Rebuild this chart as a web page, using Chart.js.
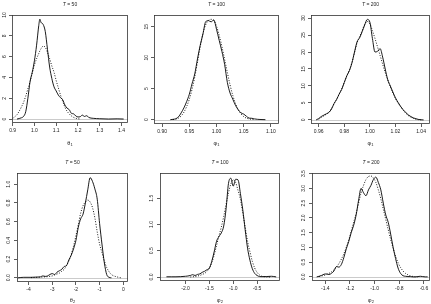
<!DOCTYPE html>
<html>
<head>
<meta charset="utf-8">
<script src="https://cdn.jsdelivr.net/npm/chart.js@4.4.0/dist/chart.umd.min.js"></script>
<style>
  html, body { margin: 0; padding: 0; background: #fff; }
  #wrap { position: relative; width: 431px; height: 304px; overflow: hidden; }
  #wrap canvas { position: absolute; left: 0; top: 0; }
</style>
</head>
<body>
<div id="wrap"></div>
<script>
// ---- data: density estimates ----
// row 1, T = 50
const r1T50X = [0.90,0.91,0.92,0.93,0.94,0.95,0.96,0.97,0.98,0.99,1.00,1.01,1.02,1.025,1.03,1.04,1.05,1.06,1.07,1.08,1.09,1.10,1.11,1.12,1.13,1.14,1.15,1.16,1.17,1.18,1.19,1.20,1.21,1.22,1.23,1.24,1.25,1.27,1.30,1.34,1.38,1.41];
const r1T50Solid = [null,null,0.0,0.05,0.12,0.25,0.7,2.0,3.6,4.5,5.6,7.1,9.0,9.6,9.3,9.1,8.4,6.7,5.0,3.9,3.1,2.7,2.3,2.05,1.85,1.35,1.05,0.9,0.55,0.5,0.3,0.2,0.22,0.38,0.25,0.32,0.15,0.07,0.03,0.0,0.02,0.0];
const r1T50Dotted = [0.06,0.22,0.42,0.75,1.15,1.6,2.2,2.9,3.6,4.4,5.2,5.8,6.3,6.55,6.75,7.0,6.9,6.4,5.8,5.1,4.5,3.7,3.0,2.3,1.7,1.15,0.75,0.5,0.3,0.16,0.08,0.03,0.0,null,null,null,null,null,null,null,null,null];
const r1T50XTicks = [0.9,1.0,1.1,1.2,1.3,1.4];
const r1T50YTicks = [0,2,4,6,8,10];

// row 1, T = 100
const r1T100X = [0.915,0.92,0.925,0.93,0.935,0.94,0.945,0.95,0.955,0.96,0.965,0.97,0.975,0.98,0.985,0.99,0.995,1.00,1.005,1.01,1.015,1.02,1.025,1.03,1.035,1.04,1.045,1.05,1.055,1.06,1.065,1.07,1.075,1.08,1.09];
const r1T100Solid = [0,0.05,0.15,0.45,1.1,1.9,2.9,4.1,5.8,7.4,9.8,12.0,13.8,15.8,16.0,15.8,16.1,14.6,12.8,11.0,8.9,6.0,4.3,3.3,2.3,1.6,1.1,0.9,0.55,0.25,0.22,0.12,0.06,0.03,0.0];
const r1T100Dotted = [null,0.02,0.08,0.25,0.6,1.2,2.1,3.3,4.9,6.9,9.3,11.8,13.9,15.3,16.0,16.2,16.0,15.1,13.6,11.8,9.7,7.6,5.6,3.9,2.6,1.6,0.95,0.5,0.25,0.12,0.05,0.02,null,null,null];
const r1T100XTicks = [0.90,0.95,1.00,1.05,1.10];
const r1T100YTicks = [0,5,10,15];

// row 1, T = 200
const r1T200X = [0.958,0.960,0.962,0.964,0.966,0.968,0.970,0.972,0.974,0.976,0.978,0.980,0.982,0.984,0.986,0.988,0.990,0.992,0.994,0.996,0.998,1.000,1.002,1.004,1.006,1.008,1.010,1.012,1.014,1.016,1.018,1.020,1.022,1.024,1.026,1.028,1.030,1.032,1.034,1.036,1.038,1.040,1.042];
const r1T200Solid = [0.0,0.4,1.0,1.4,1.8,2.2,3.2,4.8,6.0,7.6,9.0,11.0,13.0,14.5,16.8,20.0,23.0,24.2,26.0,28.0,29.6,28.8,24.0,20.0,20.2,21.0,18.5,15.0,11.8,10.0,8.2,6.5,5.2,4.0,3.0,2.2,1.5,1.0,0.6,0.35,0.15,0.05,0.0];
const r1T200Dotted = [null,0.2,0.7,1.2,1.7,2.3,3.3,4.8,6.1,7.6,9.2,11.1,13.0,14.7,16.9,19.8,22.7,24.5,26.3,28.2,29.0,28.3,26.3,24.0,21.5,19.0,16.4,14.0,11.8,9.7,7.9,6.3,5.0,3.9,2.9,2.0,1.3,0.8,0.45,0.2,0.08,0.02,null];
const r1T200XTicks = [0.96,0.98,1.00,1.02,1.04];
const r1T200YTicks = [0,5,10,15,20,25,30];

// row 2, T = 50
const r2T50X = [-4.45,-4.2,-3.9,-3.6,-3.5,-3.4,-3.3,-3.2,-3.1,-3.0,-2.9,-2.8,-2.7,-2.6,-2.5,-2.4,-2.3,-2.2,-2.1,-2.0,-1.9,-1.8,-1.7,-1.6,-1.5,-1.4,-1.3,-1.2,-1.1,-1.0,-0.9,-0.8,-0.7,-0.6,-0.5,-0.4,-0.3,-0.2,-0.1];
const r2T50Solid = [0.0,0.005,0.005,0.008,0.01,0.02,0.015,0.02,0.035,0.045,0.035,0.06,0.075,0.09,0.12,0.13,0.19,0.24,0.31,0.40,0.54,0.63,0.68,0.80,0.94,1.07,1.03,0.95,0.84,0.58,0.36,0.16,0.035,0.005,0.0,null,null,null,null];
const r2T50Dotted = [null,null,0.002,0.005,0.006,0.008,0.01,0.012,0.015,0.02,0.03,0.04,0.05,0.07,0.09,0.13,0.18,0.25,0.34,0.45,0.57,0.69,0.77,0.81,0.83,0.81,0.75,0.64,0.49,0.36,0.27,0.18,0.11,0.065,0.035,0.02,0.012,0.005,0.0];
const r2T50XTicks = [-4,-3,-2,-1,0];
const r2T50YTicks = [0,0.2,0.4,0.6,0.8,1.0];

// row 2, T = 100
const r2T100X = [-2.4,-2.3,-2.2,-2.1,-2.0,-1.95,-1.9,-1.85,-1.8,-1.75,-1.7,-1.65,-1.6,-1.55,-1.5,-1.45,-1.4,-1.35,-1.3,-1.25,-1.2,-1.15,-1.1,-1.05,-1.0,-0.95,-0.9,-0.85,-0.8,-0.75,-0.7,-0.65,-0.6,-0.55,-0.5,-0.45,-0.4,-0.3,-0.2,-0.1];
const r2T100Solid = [0.005,0.005,0.005,0.008,0.015,0.02,0.03,0.045,0.03,0.05,0.06,0.09,0.11,0.14,0.17,0.3,0.48,0.68,0.77,0.84,0.97,1.3,1.78,1.88,1.73,1.86,1.85,1.59,1.28,0.9,0.55,0.32,0.16,0.07,0.03,0.01,0.008,0.01,0.015,0.003];
const r2T100Dotted = [null,null,null,null,null,null,0.002,0.005,0.01,0.02,0.03,0.05,0.07,0.11,0.17,0.27,0.42,0.6,0.78,0.95,1.15,1.38,1.6,1.77,1.85,1.8,1.65,1.48,1.22,0.95,0.68,0.48,0.3,0.17,0.09,0.04,0.015,0.003,0.0,null];
const r2T100XTicks = [-2.0,-1.5,-1.0,-0.5];
const r2T100YTicks = [0,0.5,1.0,1.5];

// row 2, T = 200
const r2T200X = [-1.47,-1.45,-1.43,-1.41,-1.39,-1.37,-1.35,-1.33,-1.31,-1.29,-1.27,-1.25,-1.23,-1.21,-1.19,-1.17,-1.15,-1.13,-1.11,-1.09,-1.07,-1.05,-1.03,-1.01,-0.99,-0.97,-0.95,-0.93,-0.91,-0.89,-0.87,-0.85,-0.83,-0.81,-0.79,-0.77,-0.75,-0.73,-0.71,-0.69,-0.67,-0.65,-0.63,-0.61,-0.59,-0.57];
const r2T200Solid = [0.0,0.02,0.05,0.09,0.1,0.08,0.12,0.2,0.35,0.33,0.42,0.65,0.95,1.2,1.5,1.75,2.1,2.6,3.0,2.85,2.75,2.95,3.1,3.3,3.38,3.2,2.95,2.5,2.1,1.85,1.45,1.0,0.62,0.3,0.12,0.04,0.02,0.01,0.01,0.0,0.0,0.01,0.02,0.01,0.0,0.0];
const r2T200Dotted = [null,0.01,0.03,0.05,0.08,0.12,0.17,0.24,0.33,0.45,0.6,0.78,1.0,1.25,1.55,1.85,2.15,2.5,2.85,3.1,3.3,3.4,3.42,3.35,3.2,2.95,2.65,2.3,1.95,1.6,1.27,0.97,0.7,0.48,0.32,0.2,0.12,0.07,0.035,0.015,0.005,0.0,null,null,null,null];
const r2T200XTicks = [-1.4,-1.2,-1.0,-0.8,-0.6];
const r2T200YTicks = [0,0.5,1.0,1.5,2.0,2.5,3.0,3.5];

// ---- layout ----
const W = 431, H = 304;
const YW = 11, XH = 11;
const FONT = '"Liberation Sans", Arial, sans-serif';

const panels = [
  { T: '50',  sym: 'θ', sub: '1', x: r1T50X,  solid: r1T50Solid,  dotted: r1T50Dotted,  xt: r1T50XTicks,  yt: r1T50YTicks,  xd: 1, yd: 0,
    box: [12, 15, 128, 123], xlim: [0.897, 1.43], ylim: [-0.38, 10.0], titleY: 5, labY: 143 },
  { T: '100', sym: 'φ', sub: '1', x: r1T100X, solid: r1T100Solid, dotted: r1T100Dotted, xt: r1T100XTicks, yt: r1T100YTicks, xd: 2, yd: 0,
    box: [154, 15, 279, 124], xlim: [0.885, 1.115], ylim: [-0.7, 16.9], titleY: 5, labY: 143 },
  { T: '200', sym: 'φ', sub: '1', x: r1T200X, solid: r1T200Solid, dotted: r1T200Dotted, xt: r1T200XTicks, yt: r1T200YTicks, xd: 2, yd: 0,
    box: [311, 15, 430, 124], xlim: [0.954, 1.047], ylim: [-1.2, 30.9], titleY: 5, labY: 143 },
  { T: '50',  sym: 'θ', sub: '2', x: r2T50X,  solid: r2T50Solid,  dotted: r2T50Dotted,  xt: r2T50XTicks,  yt: r2T50YTicks,  xd: 0, yd: 1,
    box: [17, 173, 128, 282], xlim: [-4.49, 0.2], ylim: [-0.045, 1.12], titleY: 163, labY: 300 },
  { T: '100', sym: 'φ', sub: '2', x: r2T100X, solid: r2T100Solid, dotted: r2T100Dotted, xt: r2T100XTicks, yt: r2T100YTicks, xd: 1, yd: 1,
    box: [160, 173, 280, 281], xlim: [-2.535, -0.02], ylim: [-0.075, 1.98], titleY: 163, labY: 300 },
  { T: '200', sym: 'φ', sub: '2', x: r2T200X, solid: r2T200Solid, dotted: r2T200Dotted, xt: r2T200XTicks, yt: r2T200YTicks, xd: 1, yd: 1,
    box: [312, 173, 430, 281], xlim: [-1.508, -0.551], ylim: [-0.14, 3.52], titleY: 163, labY: 300 }
];

// zero line, frame, title and axis label, R style
const frame = {
  id: 'frame',
  beforeDatasetsDraw(chart) {
    const { ctx, chartArea: a, scales: { y } } = chart;
    const y0 = Math.round(y.getPixelForValue(0)) + 0.5;
    ctx.save();
    ctx.strokeStyle = '#bebebe';
    ctx.lineWidth = 0.8;
    ctx.beginPath();
    ctx.moveTo(a.left, y0);
    ctx.lineTo(a.right, y0);
    ctx.stroke();
    ctx.restore();
  },
  afterDraw(chart, args, p) {
    const { ctx, chartArea: a } = chart;
    ctx.save();
    ctx.strokeStyle = '#333';
    ctx.lineWidth = 0.8;
    ctx.strokeRect(a.left + 0.5, a.top + 0.5, a.right - a.left - 1, a.bottom - a.top - 1);

    const cx = (a.left + a.right) / 2;
    ctx.fillStyle = '#222';
    ctx.textBaseline = 'middle';
    ctx.textAlign = 'left';
    // title: italic T
    ctx.font = 'italic 5px ' + FONT;
    const wT = ctx.measureText('T').width;
    ctx.font = '5px ' + FONT;
    const rest = ' = ' + p.T;
    const wR = ctx.measureText(rest).width;
    let x0 = cx - (wT + wR) / 2;
    ctx.font = 'italic 5px ' + FONT;
    ctx.fillText('T', x0, p.titleY);
    ctx.font = '5px ' + FONT;
    ctx.fillText(rest, x0 + wT, p.titleY);
    // axis label with subscript
    ctx.font = '5.5px ' + FONT;
    const ws = ctx.measureText(p.sym).width;
    ctx.font = '4px ' + FONT;
    const wb = ctx.measureText(p.sub).width;
    x0 = cx - (ws + wb) / 2;
    ctx.font = '5.5px ' + FONT;
    ctx.fillText(p.sym, x0, p.labY);
    ctx.font = '4px ' + FONT;
    ctx.fillText(p.sub, x0 + ws, p.labY + 1.6);
    ctx.restore();
  }
};

const wrap = document.getElementById('wrap');

panels.forEach(p => {
  const cv = document.createElement('canvas');
  cv.width = W;
  cv.height = H;
  wrap.appendChild(cv);
  const [L, T, R, B] = p.box;
  const pts = ys => p.x.map((x, i) => ({ x: x, y: ys[i] }));
  const tickFont = { family: FONT, size: 5 };

  new Chart(cv, {
    type: 'line',
    data: {
      datasets: [
        { data: pts(p.solid), borderColor: '#000', borderWidth: 0.9, cubicInterpolationMode: 'monotone', spanGaps: false },
        { data: pts(p.dotted), borderColor: '#000', borderWidth: 0.9, borderDash: [1, 1.6], cubicInterpolationMode: 'monotone', spanGaps: false }
      ]
    },
    options: {
      responsive: false,
      animation: false,
      events: [],
      layout: { padding: { left: L - YW, top: T, right: W - R, bottom: H - B - XH } },
      elements: { point: { radius: 0 } },
      plugins: {
        legend: { display: false },
        tooltip: { enabled: false },
        frame: { T: p.T, sym: p.sym, sub: p.sub, titleY: p.titleY, labY: p.labY }
      },
      scales: {
        x: {
          type: 'linear',
          min: p.xlim[0],
          max: p.xlim[1],
          afterBuildTicks: s => { s.ticks = p.xt.map(v => ({ value: v })); },
          afterFit: s => { s.height = XH; },
          border: { display: false },
          grid: { display: true, drawOnChartArea: false, drawTicks: true, tickLength: 3, color: '#333', lineWidth: 0.8 },
          ticks: {
            autoSkip: false, maxRotation: 0, minRotation: 0, padding: 2,
            font: tickFont, color: '#222',
            callback: v => Number(v).toFixed(p.xd)
          }
        },
        y: {
          type: 'linear',
          min: p.ylim[0],
          max: p.ylim[1],
          afterBuildTicks: s => { s.ticks = p.yt.map(v => ({ value: v })); },
          afterFit: s => { s.width = YW; },
          border: { display: false },
          grid: { display: true, drawOnChartArea: false, drawTicks: true, tickLength: 3, color: '#333', lineWidth: 0.8 },
          ticks: {
            autoSkip: false, minRotation: 90, maxRotation: 90, padding: 2, crossAlign: 'center',
            font: tickFont, color: '#222',
            callback: v => Number(v).toFixed(p.yd)
          }
        }
      }
    },
    plugins: [frame]
  });
});
</script>
</body>
</html>
